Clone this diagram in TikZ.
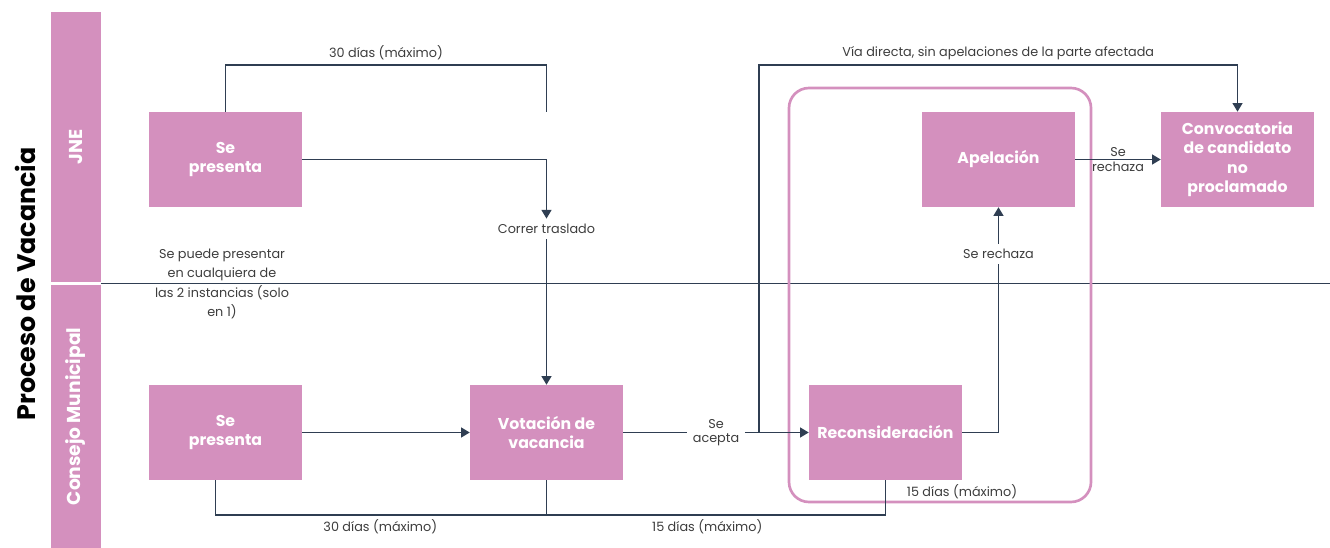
\documentclass[tikz,border=0pt]{standalone}
\usepackage{fontspec}
\setmainfont{Poppins}
\definecolor{LanePink}{RGB}{212, 144, 190}
\definecolor{LineSlate}{RGB}{47, 62, 82}
\definecolor{TextGray}{RGB}{61, 61, 61}
\usepackage{tikz}
\usetikzlibrary{arrows.meta, positioning, calc}

\begin{document}
\begin{tikzpicture}[x=0.75pt, y=-0.75pt,
    box/.style={fill=LanePink, text=white, minimum width=114.75pt, minimum height=71.25pt,
        align=center, inner sep=2pt, font=\fontsize{11.8}{14.6}\selectfont\bfseries},
    lane/.style={fill=LanePink, text=white, rotate=90, minimum height=37.5pt,
        font=\fontsize{14}{16}\selectfont\bfseries},
    lbl/.style={text=TextGray, align=center, inner sep=4pt, font=\fontsize{9.6}{11}\selectfont},
    line/.style={draw=LineSlate, line width=1pt},
    arr/.style={line, -{Triangle[length=6.5pt, width=7.5pt]}}]
    \useasboundingbox (0,0) rectangle (1330,548);

    % Title and lanes
    \node[rotate=90, font=\fontsize{19}{21}\selectfont\bfseries] (title) at (25,284) {Proceso de Vacancia};
    \node[lane, minimum width=202.5pt] (jne) at (76,147) {JNE};
    \node[lane, minimum width=197.25pt] (cm) at (76,416.5) {Consejo Municipal};
    \draw[line] (101,283.5) -- (1330,283.5);

    % Helper rows
    \coordinate (topline) at (0,65);
    \coordinate (bottom) at (0,515);

    % Frame round the appeals
    \draw[LanePink, line width=2pt, rounded corners=15pt] (789,88) rectangle (1091,502);

    % Boxes
    \node[box] (jneSe) at (225.5,159.5) {Se\\presenta};
    \node[box] (cmSe) at (225.5,432.5) {Se\\presenta};
    \node[box] (vot) at (546.5,432.5) {Votación de\\vacancia};
    \node[box] (recon) at (885.5,432.5) {Reconsideración};
    \node[box] (apel) at (998.5,159.5) {Apelación};
    \node[box] (conv) at (1237.5,159.5) {Convocatoria\\de candidato\\no\\proclamado};

    % Labels
    \node[lbl] (corr) at (546.5,229) {Correr traslado};
    \node[lbl] (acepta) at (716,432.5) {Se\\acepta};
    \node[lbl] (rech) at (998.5,254) {Se rechaza};
    \node[lbl, font=\fontsize{9.6}{14.6}\selectfont] (note) at (222,284)
        {Se puede presentar\\en cualquiera de\\las 2 instancias (solo\\en 1)};
    \node[lbl] (quince) at (962,492) {15 días (máximo)};
    \coordinate (loopEnd) at (546.5,112);
    \coordinate (split) at (759,432.5);

    % JNE
    \draw[line] (jneSe.north) |- (loopEnd |- topline)
        node[lbl, pos=0.75, above, inner sep=3pt] {30 días (máximo)} -- (loopEnd);
    \draw[arr] (jneSe.east) -| (corr.north);
    \draw[arr] (corr.south) -- (vot.north);

    % Consejo Municipal
    \draw[arr] (cmSe) -- (vot);
    \draw[line] (vot.east) -- (acepta.west);
    \draw[arr] (acepta.east) -- (recon.west);
    \draw[arr] (split) |- (conv.north |- topline)
        node[lbl, pos=0.75, above, inner sep=3pt] {Vía directa, sin apelaciones de la parte afectada} -- (conv.north);
    \draw[line] (recon.east) -| (rech.south);
    \draw[arr] (rech.north) -- (apel.south);
    \draw[arr] (apel.east) -- (conv.west)
        node[lbl, midway, inner sep=0pt] {Se\\rechaza};

    % Deadlines
    \draw[line] ([xshift=-7.5pt]cmSe.south) |- (recon.south |- bottom)
        node[lbl, pos=0.623, below, inner sep=3pt] {30 días (máximo)}
        node[lbl, pos=0.867, below, inner sep=3pt] {15 días (máximo)} -- (recon.south);
    \draw[line] (vot.south) -- (vot.south |- bottom);
\end{tikzpicture}
\end{document}
